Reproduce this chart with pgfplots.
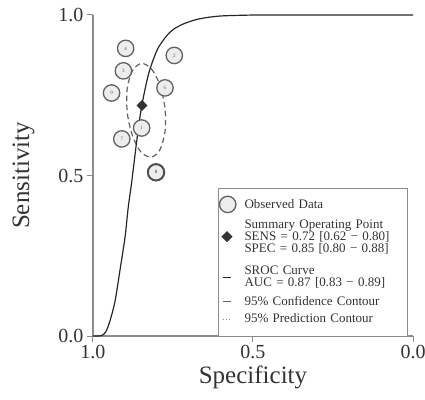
\documentclass[border=0pt]{standalone}
\usepackage{pgfplots}
\pgfplotsset{compat=1.18}
\usepackage{fontspec}
\setmainfont{Liberation Serif}
\definecolor{axgray}{gray}{0.55}
\definecolor{txt}{gray}{0.2}
\definecolor{circfill}{gray}{0.93}
\definecolor{circdraw}{gray}{0.38}
\begin{document}
\begin{tikzpicture}
\useasboundingbox (-93pt,-63pt) rectangle (332pt,336pt);
\begin{axis}[
  width=320pt, height=321pt, scale only axis,
  at={(0pt,0pt)}, anchor=south west,
  xmin=0, xmax=1, ymin=0, ymax=1,
  x dir=reverse,
  axis x line*=bottom, axis y line*=left,
  axis line style={axgray, line width=1.2pt},
  xtick={0,0.5,1}, xticklabels={0.0,0.5,1.0},
  ytick={0,0.5,1}, yticklabels={0.0,0.5,1.0},
  tick style={axgray, line width=1pt},
  tick align=outside, major tick length=6pt,
  ticklabel style={font=\fontsize{20}{24}\selectfont, text=txt},
  xlabel={Specificity}, ylabel={Sensitivity},
  label style={font=\fontsize{25}{30}\selectfont, text=txt},
  ylabel shift=17pt,
  clip=false,
  legend cell align=left,
  legend style={at={(0.391,0.461)}, anchor=north west, draw=axgray, line width=0.8pt,
    fill=white, font=\fontsize{13}{13}\selectfont, text=txt,
    inner sep=0pt, row sep=0pt, column sep=0pt,
    cells={anchor=base west},
    nodes={inner sep=0pt, text width=163pt, text depth=2.7pt, text height=9pt}},
]
% confidence contour
\addplot[forget plot, smooth cycle, circdraw, line width=1.2pt, dash pattern=on 5.5pt off 3.5pt]
  coordinates {
(0.849,0.849) (0.818,0.833) (0.791,0.782) (0.775,0.709) (0.775,0.636) (0.791,0.580)
(0.818,0.557) (0.850,0.573) (0.877,0.625) (0.893,0.697) (0.893,0.771) (0.877,0.826)
};
% observed data
\addplot[forget plot, only marks, mark=*, mark size=8.2pt,
  mark options={fill=circfill, draw=circdraw, line width=1.3pt},
  nodes near coords, point meta=explicit symbolic,
  every node near coord/.append style={anchor=center, font=\fontsize{5}{5}\selectfont, text=gray!70!black}]
  table[meta=label] {
x y label
0.898 0.896 4
0.746 0.874 2
0.905 0.826 3
0.942 0.757 9
0.775 0.773 6
0.848 0.648 1
0.910 0.614 7
};
\addplot[forget plot, only marks, mark=*, mark size=8.2pt,
  mark options={fill=circfill, draw=circdraw!80!black, line width=2pt},
  nodes near coords, point meta=explicit symbolic,
  every node near coord/.append style={anchor=center, font=\fontsize{5}{5}\selectfont, text=gray!40!black}]
  table[meta=label] {
x y label
0.803 0.510 8
};
% SROC curve
\addplot[forget plot, smooth, black!85, line width=1.2pt] coordinates {
(1.0,0.0) (0.985,0.0) (0.972,0.002) (0.96,0.013) (0.947,0.047) (0.931,0.109)
(0.916,0.203) (0.90,0.307) (0.89,0.40) (0.879,0.48) (0.863,0.61) (0.848,0.715)
(0.828,0.81) (0.812,0.86) (0.796,0.898) (0.77,0.935) (0.749,0.955) (0.718,0.972)
(0.68,0.985) (0.645,0.992) (0.60,0.997) (0.54,0.999) (0.45,1.0) (0.0,1.0)
};
% summary point
\addplot[forget plot, only marks, mark=square*, mark size=3.6pt,
  mark options={rotate=45, fill=txt, draw=txt}] coordinates {(0.847,0.718)};

\addlegendimage{legend image code/.code={\path[draw=none,fill=none] (0pt,0pt) -- (26pt,0pt); \draw[fill=circfill,draw=circdraw,line width=1.3pt] (9.2pt,4pt) circle (8.2pt);}}
\addlegendentry[text height=20pt]{Observed Data}
\addlegendimage{legend image code/.code={\path[draw=none,fill=none] (0pt,0pt) -- (26pt,0pt);}}
\addlegendentry[text height=15.3pt]{Summary Operating Point}
\addlegendimage{legend image code/.code={\path[draw=none,fill=none] (0pt,0pt) -- (26pt,0pt); \draw[fill=txt,draw=txt,rotate around={45:(8.5pt,4pt)}] (5pt,0.5pt) rectangle (12pt,7.5pt);}}
\addlegendentry[text height=8.6pt]{SENS = 0.72 [0.62 − 0.80]}
\addlegendimage{legend image code/.code={\path[draw=none,fill=none] (0pt,0pt) -- (26pt,0pt);}}
\addlegendentry[text height=9pt]{SPEC = 0.85 [0.80 − 0.88]}
\addlegendimage{legend image code/.code={\path[draw=none,fill=none] (0pt,0pt) -- (26pt,0pt); \draw[black!85,line width=1.2pt] (4.5pt,-3.3pt) -- (12.5pt,-3.3pt);}}
\addlegendentry[text height=19pt]{SROC Curve}
\addlegendimage{legend image code/.code={\path[draw=none,fill=none] (0pt,0pt) -- (26pt,0pt);}}
\addlegendentry[text height=8.9pt]{AUC = 0.87 [0.83 − 0.89]}
\addlegendimage{legend image code/.code={\path[draw=none,fill=none] (0pt,0pt) -- (26pt,0pt); \draw[circdraw,line width=1.2pt] (4.5pt,3.5pt) -- (12.5pt,3.5pt);}}
\addlegendentry[text height=15.7pt]{95\% Confidence Contour}
\addlegendimage{legend image code/.code={\path[draw=none,fill=none] (0pt,0pt) -- (26pt,0pt); \draw[gray,line width=1pt,dash pattern=on 1pt off 2pt] (4.5pt,3.5pt) -- (13pt,3.5pt);}}
\addlegendentry[text height=14.9pt, text depth=13.4pt]{95\% Prediction Contour}
\end{axis}
\end{tikzpicture}
\end{document}
